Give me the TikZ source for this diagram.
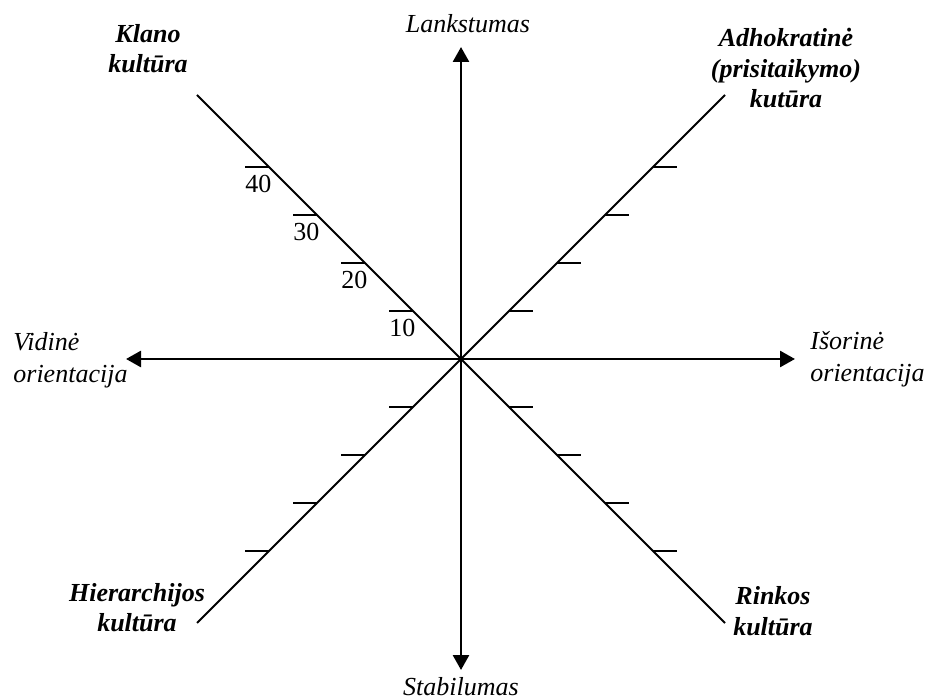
\documentclass[tikz,border=0pt]{standalone}
\usepackage{fontspec}
\setmainfont{Liberation Serif}
\usetikzlibrary{arrows.meta}
\begin{document}
\begin{tikzpicture}[x=0.5pt,y=-0.5pt,
  axisline/.style={line width=1.35pt,-{Triangle[length=7.5pt,width=8pt]}},
  diag/.style={line width=1pt},
  tickmark/.style={line width=1pt},
  lbl/.style={font=\fontsize{13}{16}\selectfont\itshape, inner sep=0pt, align=left},
  clbl/.style={font=\fontsize{13}{15.25}\selectfont\bfseries\itshape, inner sep=0pt, align=center},
  num/.style={font=\fontsize{13}{15.5}\selectfont, inner sep=0pt, anchor=base west}]
\useasboundingbox (0,0) rectangle (933,700);
\coordinate (O) at (461,359);
\coordinate (T) at (461,47);
\coordinate (B) at (461,670);
\coordinate (L) at (126,359);
\coordinate (R) at (795,359);
\coordinate (UL) at (197,95);
\coordinate (UR) at (725,95);
\coordinate (LL) at (197,623);
\coordinate (LR) at (725,623);
% axes
\draw[axisline] (O) -- (T);
\draw[axisline] (O) -- (B);
\draw[axisline] (O) -- (L);
\draw[axisline] (O) -- (R);
% diagonals
\draw[diag] (O) -- (UL);
\draw[diag] (O) -- (UR);
\draw[diag] (O) -- (LL);
\draw[diag] (O) -- (LR);
% ticks
\foreach \d in {48,96,144,192}{
  \draw[tickmark] (461-\d,359-\d) -- ++(-24,0);
  \draw[tickmark] (461+\d,359-\d) -- ++(24,0);
  \draw[tickmark] (461-\d,359+\d) -- ++(-24,0);
  \draw[tickmark] (461+\d,359+\d) -- ++(24,0);
}
% numbers
\node[num] (n40) at (245,193) {40};
\node[num] (n30) at (293,241) {30};
\node[num] (n20) at (341,289) {20};
\node[num] (n10) at (389,337) {10};
% axis labels (base = baseline of last line)
\node[lbl, anchor=base] (lank) at (468,33) {Lankstumas};
\node[lbl, anchor=base] (stab) at (461,695) {Stabilumas};
\node[lbl, anchor=base west] (vid) at (13,383) {Vidinė\\orientacija};
\node[lbl, anchor=base west] (isor) at (810,382) {Išorinė\\orientacija};
% culture labels
\node[clbl, anchor=base] (klan) at (148,73) {Klano\\kultūra};
\node[clbl, anchor=base] (adho) at (786,108) {Adhokratinė\\(prisitaikymo)\\kutūra};
\node[clbl, anchor=base] (hier) at (137,632) {Hierarchijos\\kultūra};
\node[clbl, anchor=base] (rink) at (773,635) {Rinkos\\kultūra};
\end{tikzpicture}
\end{document}
